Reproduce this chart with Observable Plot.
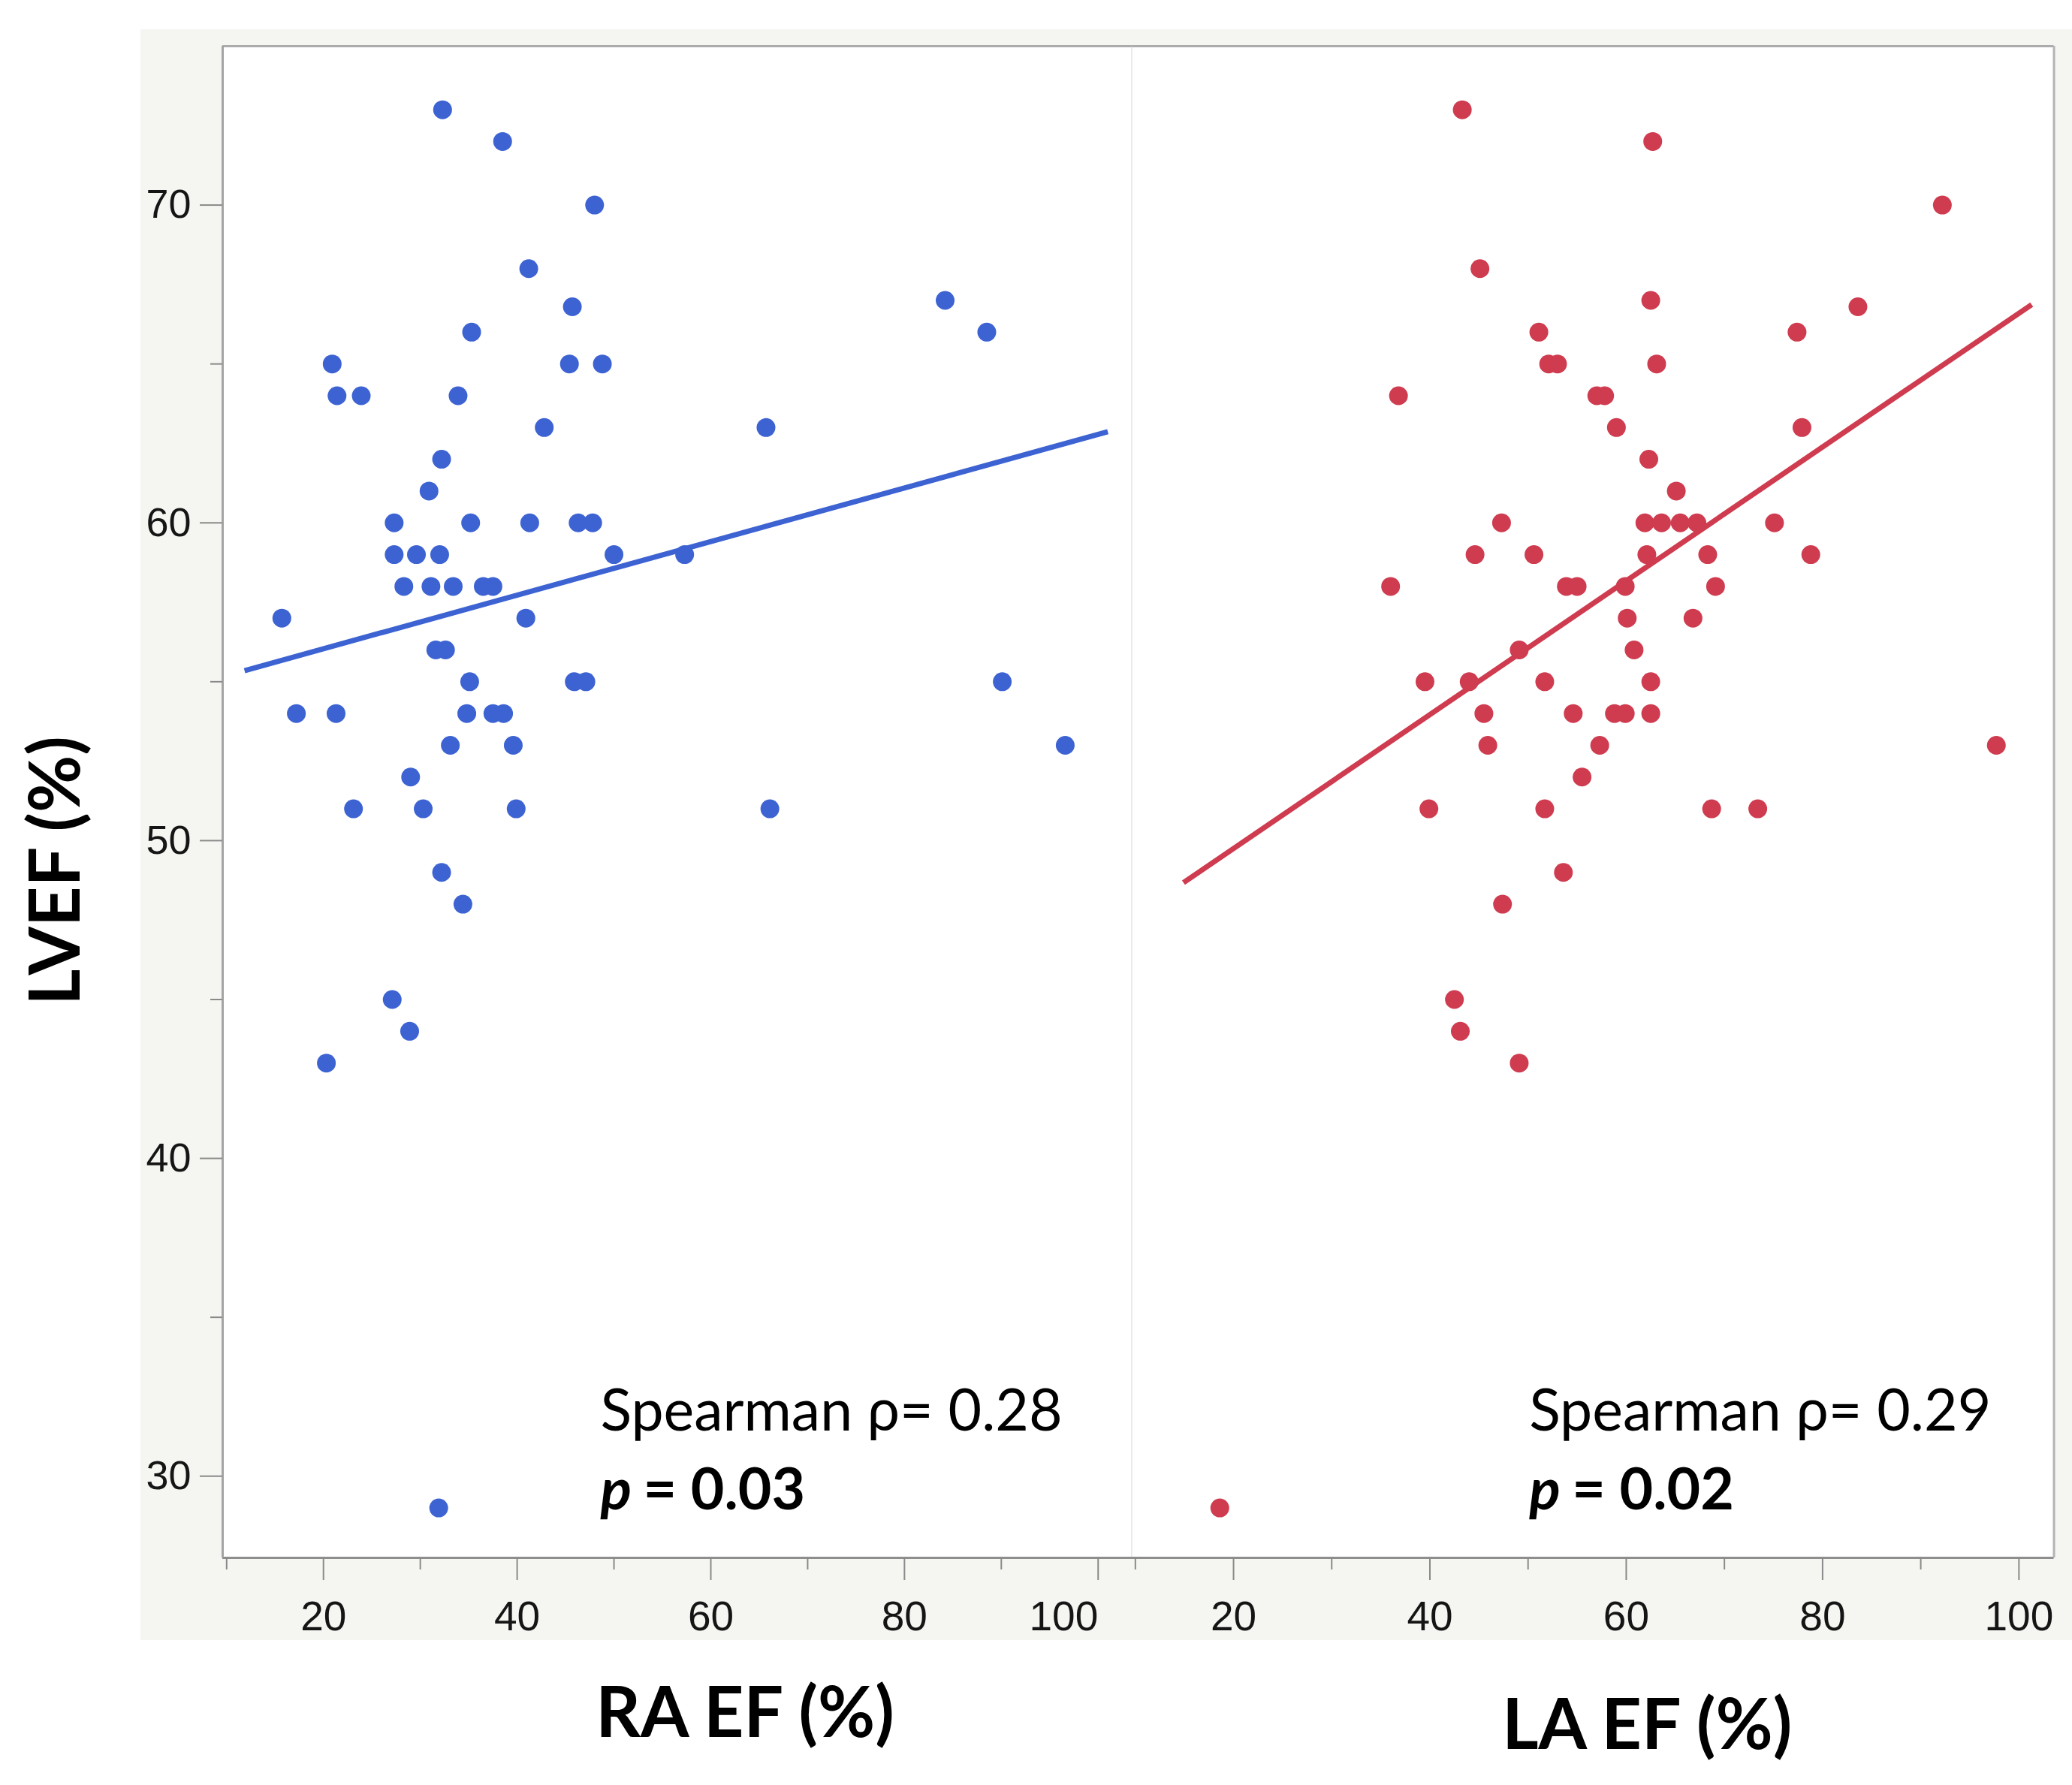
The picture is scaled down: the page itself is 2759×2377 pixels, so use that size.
<!DOCTYPE html>
<html>
<head>
<meta charset="utf-8">
<script src="https://cdn.jsdelivr.net/npm/d3@7"></script>
<script src="https://cdn.jsdelivr.net/npm/@observablehq/plot@0.6"></script>
<style>
  body { margin: 0; background: white; }
  #chart { position: relative; width: 2759px; height: 2377px; overflow: hidden; background: white; }
  #panel-bg { position: absolute; left: 187px; top: 39px; width: 2572px; height: 2145px; background: #f5f5f1; }
</style>
</head>
<body>
<div id="chart"><div id="panel-bg"></div></div>
<script>
// RA EF (%) against LVEF (%), left panel
const raEF = [32.3, 38.5, 48.0, 41.2, 45.7, 84.2, 35.3, 88.5, 20.9, 45.4, 48.8, 21.4, 23.9, 33.9, 42.8, 65.7,
  32.2, 30.9, 27.3, 35.2, 41.3, 46.3, 47.8, 27.3, 29.6, 32.0, 50.0, 57.3, 28.3, 31.1, 33.4, 36.5, 37.5,
  15.7, 40.9, 31.6, 32.6, 35.1, 45.9, 47.1, 90.1, 17.2, 21.3, 34.8, 37.5, 38.6, 33.1, 39.6, 96.6, 29.0,
  23.1, 30.3, 39.9, 66.1, 32.2, 34.4, 27.1, 28.9, 20.3, 31.9];
const raLVEF = [73, 72, 70, 68, 66.8, 67, 66, 66, 65, 65, 65, 64, 64, 64, 63, 63,
  62, 61, 60, 60, 60, 60, 60, 59, 59, 59, 59, 59, 58, 58, 58, 58, 58,
  57, 57, 56, 56, 55, 55, 55, 55, 54, 54, 54, 54, 54, 53, 53, 53, 52,
  51, 51, 51, 51, 49, 48, 45, 44, 43, 29];

// LA EF (%) against LVEF (%), right panel
const laEF = [43.3, 62.7, 92.2, 45.1, 62.5, 83.6, 51.1, 77.4, 52.1, 53.0, 63.1, 36.8, 57.0, 57.8, 59.0, 77.9,
  62.3, 65.1, 47.3, 61.9, 63.6, 65.5, 67.2, 75.1, 44.6, 50.6, 62.1, 68.3, 78.8, 36.0, 53.9, 55.0, 59.9,
  69.1, 60.1, 66.8, 60.8, 49.1, 39.5, 44.0, 51.7, 62.5, 45.5, 54.6, 58.8, 59.9, 62.5, 45.9, 57.3, 97.7,
  55.5, 39.9, 51.7, 68.7, 73.4, 53.6, 47.4, 42.5, 43.1, 49.1, 18.6];
const laLVEF = [73, 72, 70, 68, 67, 66.8, 66, 66, 65, 65, 65, 64, 64, 64, 63, 63,
  62, 61, 60, 60, 60, 60, 60, 60, 59, 59, 59, 59, 59, 58, 58, 58, 58,
  58, 57, 57, 56, 56, 55, 55, 55, 55, 54, 54, 54, 54, 54, 53, 53, 53,
  52, 51, 51, 51, 51, 49, 48, 45, 44, 43, 29];

// fitted lines, ends
const raFitEF = [11.85, 101.0];
const raFitLVEF = [55.35, 62.87];
const laFitEF = [14.9, 101.3];
const laFitLVEF = [48.68, 66.87];

const rho = ["0.28", "0.29"];
const pValues = ["0.03", "0.02"];
const titles = ["RA EF (%)", "LA EF (%)"];
const yTitle = "LVEF (%)";

const xTicks = [20, 40, 60, 80, 100];
const xMinor = [10, 30, 50, 70, 90];
const yTicks = [30, 40, 50, 60, 70];
const yMinor = [35, 45, 55, 65];

const yDomain = [27.43, 75];
const H = 2377;
const TOP = 61;
const BOTTOM = 303;
const tickGray = "#8a8a8a";
const textFont = "Lato, 'Open Sans', sans-serif";

function pairs(xs, ys) {
  return xs.map((x, i) => ({ef: x, lvef: ys[i]}));
}

function panel(o) {
  const [x0, x1] = o.domain;
  const marks = [
    Plot.frame({fill: "white", stroke: null}),
    Plot.ruleY([yDomain[1]], {stroke: "#acacac", strokeWidth: 3}),
    Plot.ruleX([x1], {stroke: o.first ? "#d6d6d6" : "#b4b4b4", strokeWidth: o.first ? 2 : 3}),
    Plot.ruleY([yDomain[0]], {stroke: "#8e8e8e", strokeWidth: 3}),
    Plot.axisX(o.first ? xTicks.slice(0, 4) : xTicks, {
      tickSize: 30, tickPadding: 27, stroke: tickGray, strokeWidth: 2, fill: "#151515", fontSize: 55, label: null
    }),
    Plot.axisX(xMinor, {tickSize: 16, stroke: tickGray, strokeWidth: 2, fill: "none", label: null}),
    Plot.line(pairs(o.fitEF, o.fitLVEF), {x: "ef", y: "lvef", stroke: o.color, strokeWidth: 7, strokeLinecap: "butt"}),
    Plot.dot(pairs(o.ef, o.lvef), {x: "ef", y: "lvef", r: 12.5, fill: o.color}),
    Plot.text([`Spearman ρ= ${o.rho}`], {
      x: o.noteX, y: 31.43, textAnchor: "start", lineAnchor: "bottom",
      fontFamily: textFont, fontSize: 77, fill: "black"
    }),
    Plot.text(["p"], {
      x: o.noteX, y: 28.95, textAnchor: "start", lineAnchor: "bottom",
      fontFamily: textFont, fontSize: 77, fontWeight: "bold", fontStyle: "italic", fill: "black"
    }),
    Plot.text([`= ${o.p}`], {
      x: o.noteX, y: 28.95, dx: 57, textAnchor: "start", lineAnchor: "bottom",
      fontFamily: textFont, fontSize: 77, fontWeight: "bold", fill: "black"
    }),
    Plot.text([o.title], {
      frameAnchor: "bottom", dx: o.titleDx, dy: o.titleDy, lineAnchor: "bottom", textAnchor: "middle",
      fontFamily: textFont, fontSize: 93, fontWeight: "bold", fill: "black"
    })
  ];
  if (o.first) {
    marks.push(
      Plot.ruleX([x0], {stroke: "#a4a4a4", strokeWidth: 3}),
      // JMP pulls the last label inside the panel
      Plot.axisX([100], {tickSize: 30, tickPadding: 27, stroke: tickGray, strokeWidth: 2, fill: "#151515",
        fontSize: 55, textAnchor: "end", label: null}),
      Plot.axisY(yTicks, {tickSize: 30, tickPadding: 12, stroke: tickGray, strokeWidth: 2, fill: "#151515",
        fontSize: 54, label: null}),
      Plot.axisY(yMinor, {tickSize: 16, stroke: tickGray, strokeWidth: 2, fill: "none", label: null}),
      Plot.text([yTitle], {
        frameAnchor: "left", rotate: -90, dx: -191, dy: 91.5, lineAnchor: "bottom", textAnchor: "middle",
        fontFamily: textFont, fontSize: 93, fontWeight: "bold", fill: "black"
      })
    );
  }
  return Plot.plot({
    width: o.width,
    height: H,
    marginTop: TOP,
    marginBottom: BOTTOM,
    marginLeft: o.marginLeft,
    marginRight: o.marginRight,
    x: {domain: o.domain, label: null},
    y: o.first ? {domain: yDomain, label: null} : {domain: yDomain, label: null, axis: null},
    style: `position: absolute; top: 0; left: ${o.left}px; background: transparent; overflow: visible;` +
      ` max-width: none; font-family: 'Liberation Sans', Arial, sans-serif; font-size: 54px;`,
    marks
  });
}

const chart = document.getElementById("chart");
chart.appendChild(panel({
  first: true, left: 0, width: 1510, marginLeft: 296, marginRight: 3, domain: [9.59, 103.51],
  ef: raEF, lvef: raLVEF, fitEF: raFitEF, fitLVEF: raFitLVEF, color: "#3d63d3",
  rho: rho[0], p: pValues[0], noteX: 48.6, title: titles[0], titleDx: 90, titleDy: 238
}));
chart.appendChild(panel({
  first: false, left: 1507, width: 1252, marginLeft: 0, marginRight: 24.5, domain: [9.67, 103.57],
  ef: laEF, lvef: laLVEF, fitEF: laFitEF, fitLVEF: laFitLVEF, color: "#cf3b4f",
  rho: rho[1], p: pValues[1], noteX: 50.11, title: titles[1], titleDx: 72, titleDy: 254
}));
</script>
</body>
</html>
